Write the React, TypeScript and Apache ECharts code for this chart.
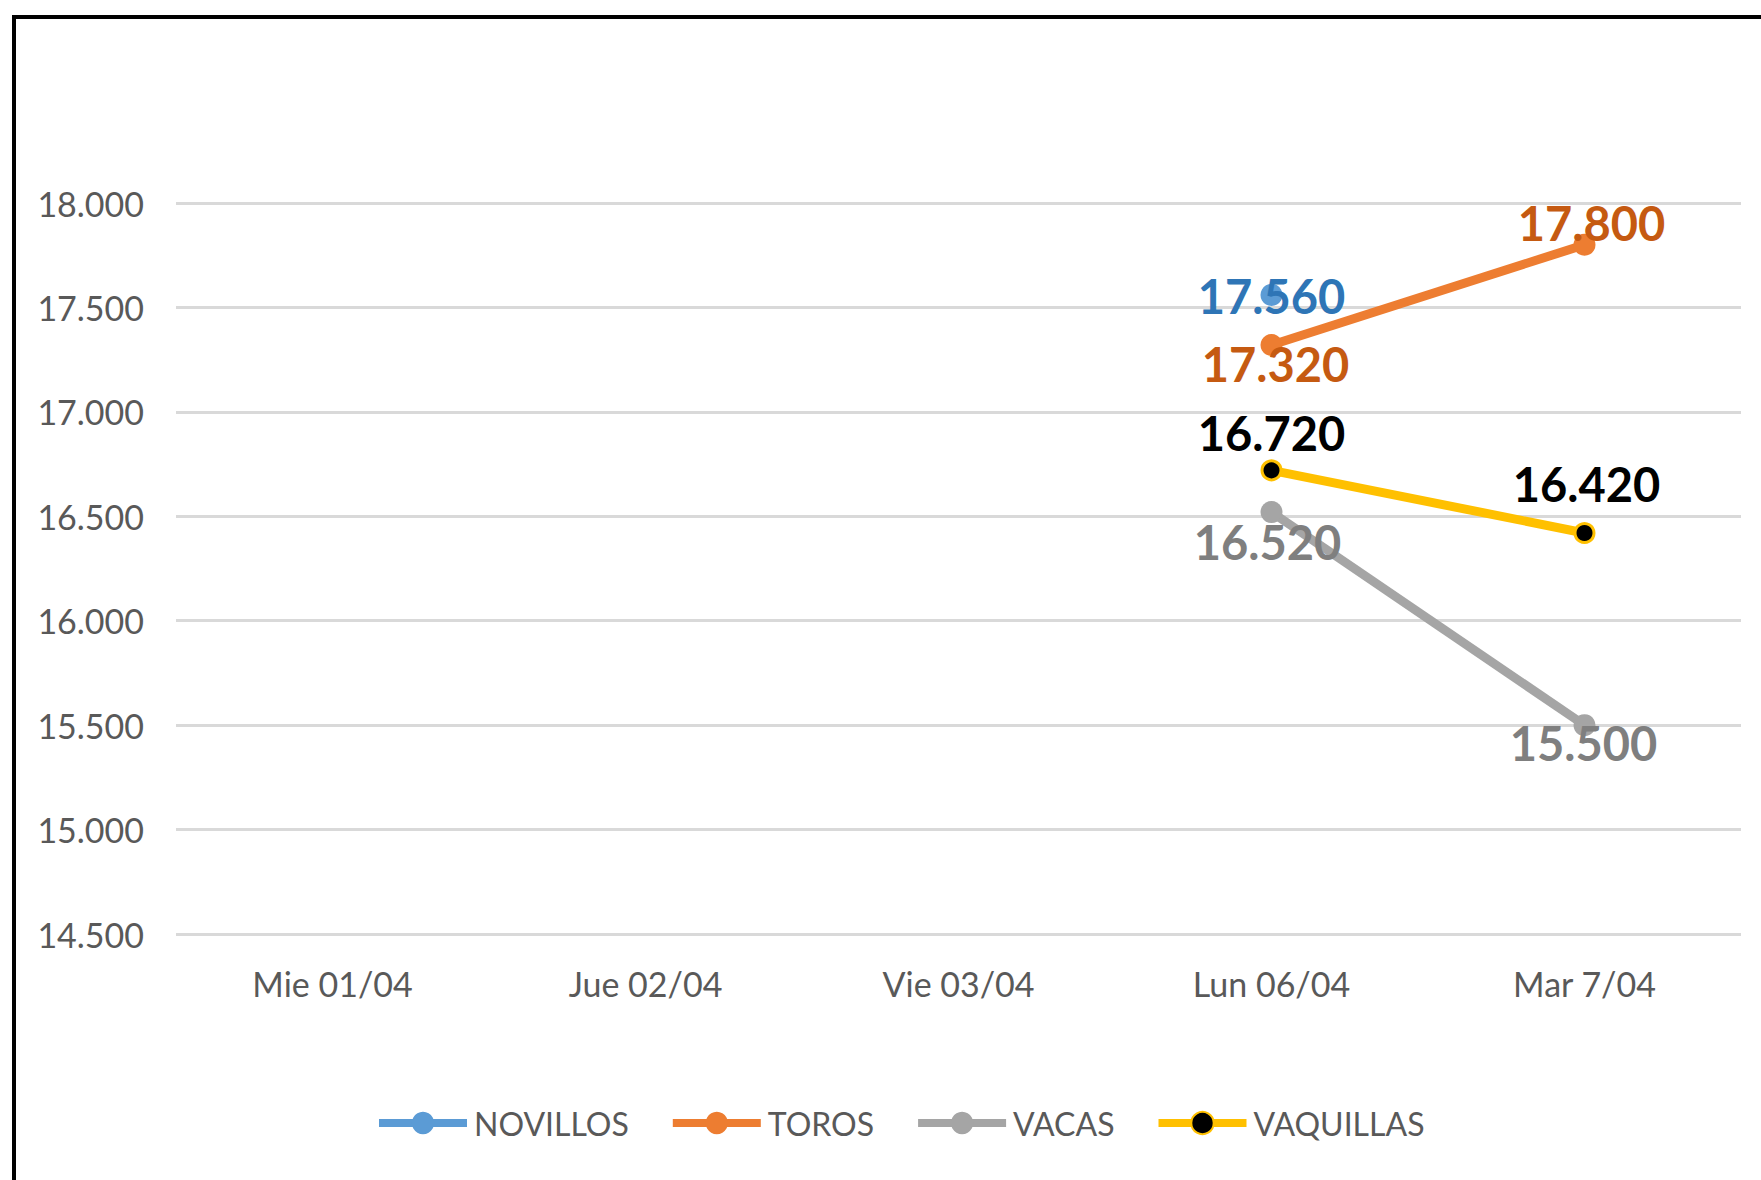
import React, { useEffect, useRef } from "react";
import * as echarts from "echarts";

const categories = ["Mie 01/04", "Jue 02/04", "Vie 03/04", "Lun 06/04", "Mar 7/04"];
const novillos = [null, null, null, 17560, null];
const toros = [null, null, null, 17320, 17800];
const vacas = [null, null, null, 16520, 15500];
const vaquillas = [null, null, null, 16720, 16420];
const seriesNames = ["NOVILLOS", "TOROS", "VACAS", "VAQUILLAS"];
const yMin = 14500;
const yMax = 18000;
const yStep = 500;

const fmt = (v: number) => String(Math.round(v)).replace(/\B(?=(\d{3})+(?!\d))/g, ".");

const FONT = "Lato";

function withLabels(values: (number | null)[], offsets: Record<number, [number, number]>) {
  return values.map((v, i) =>
    v == null ? null : { value: v, label: { offset: offsets[i] || [0, 0] } }
  );
}

export default function App() {
  const ref = useRef<HTMLDivElement>(null);
  useEffect(() => {
    if (!ref.current) return;
    const chart = echarts.init(ref.current, undefined, { renderer: "svg" });
    const labelBase = {
      show: true,
      position: "inside",
      fontFamily: FONT,
      fontSize: 47,
      fontWeight: "bold",
      formatter: (p: any) => fmt(p.value),
    };
    chart.setOption({
      animation: false,
      backgroundColor: "#ffffff",
      textStyle: { fontFamily: FONT },
      graphic: [
        {
          type: "rect",
          shape: { x: 14, y: 17, width: 1900, height: 1400 },
          style: { fill: "none", stroke: "#000000", lineWidth: 4 },
          z: 100,
          silent: true,
        },
      ],
      grid: { left: 176, right: 20, top: 203, bottom: 246, containLabel: false },
      legend: {
        data: seriesNames,
        left: 370,
        top: 1102,
        itemWidth: 88,
        itemHeight: 28,
        itemGap: 40,
        lineStyle: { width: 8 },
        textStyle: { fontFamily: FONT, fontSize: 32, color: "#595959", padding: [0, 0, 0, 2] },
      },
      xAxis: {
        type: "category",
        data: categories,
        boundaryGap: true,
        axisLine: { show: false },
        axisTick: { show: false },
        axisLabel: { fontFamily: FONT, fontSize: 34, color: "#595959", margin: 32 },
        splitLine: { show: false },
      },
      yAxis: {
        type: "value",
        min: yMin,
        max: yMax,
        interval: yStep,
        axisLine: { show: false },
        axisTick: { show: false },
        axisLabel: {
          fontFamily: FONT,
          fontSize: 34,
          color: "#595959",
          margin: 32,
          formatter: (v: number) => fmt(v),
        },
        splitLine: { show: true, lineStyle: { color: "#D9D9D9", width: 3 } },
      },
      series: [
        {
          name: "NOVILLOS",
          type: "line",
          data: withLabels(novillos, { 3: [0, 1] }),
          symbol: "circle",
          symbolSize: 22,
          showSymbol: true,
          itemStyle: { color: "#5B9BD5" },
          lineStyle: { color: "#5B9BD5", width: 9 },
          label: { ...labelBase, color: "#2E75B6" },
        },
        {
          name: "TOROS",
          type: "line",
          data: withLabels(toros, { 3: [4, 19], 4: [7, -22] }),
          symbol: "circle",
          symbolSize: 22,
          itemStyle: { color: "#ED7D31" },
          lineStyle: { color: "#ED7D31", width: 9 },
          label: { ...labelBase, color: "#C55A11" },
        },
        {
          name: "VACAS",
          type: "line",
          data: withLabels(vacas, { 3: [-4, 30], 4: [-1, 18] }),
          symbol: "circle",
          symbolSize: 22,
          itemStyle: { color: "#A5A5A5" },
          lineStyle: { color: "#A5A5A5", width: 9 },
          label: { ...labelBase, color: "#7F7F7F" },
        },
        {
          name: "VAQUILLAS",
          type: "line",
          data: withLabels(vaquillas, { 3: [0, -37], 4: [2, -49] }),
          symbol: "circle",
          symbolSize: 19,
          itemStyle: { color: "#000000", borderColor: "#FFC000", borderWidth: 3 },
          lineStyle: { color: "#FFC000", width: 9 },
          label: { ...labelBase, color: "#000000" },
        },
      ],
    });
    return () => chart.dispose();
  }, []);
  return (
    <div
      ref={ref}
      style={{ position: "fixed", left: 0, top: 0, width: 1761, height: 1180, background: "#fff" }}
    />
  );
}
